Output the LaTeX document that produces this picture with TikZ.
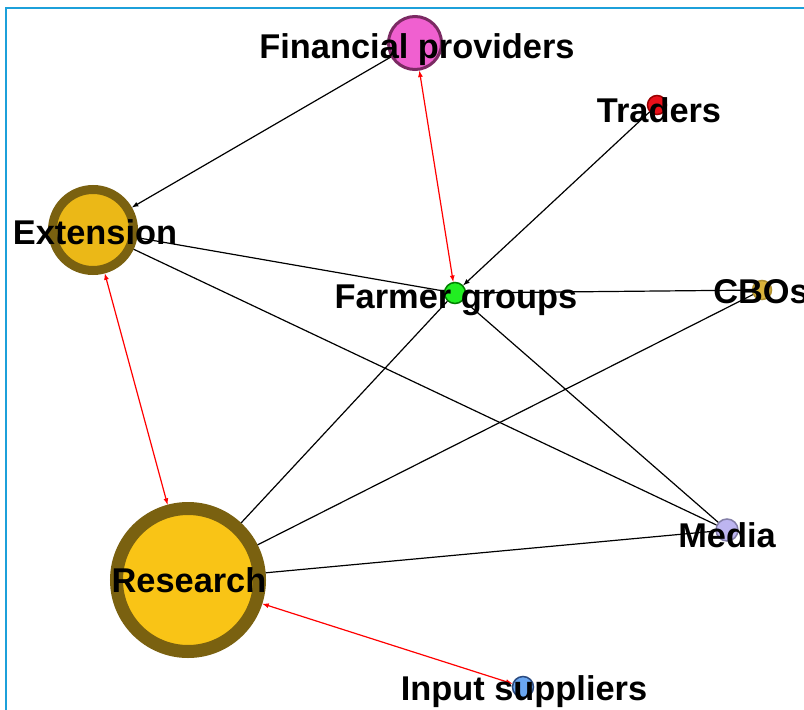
\documentclass[tikz,border=0pt]{standalone}
\usepackage{fontspec}
\setmainfont{Liberation Sans}
\usepackage{xcolor}
\usetikzlibrary{arrows}
\definecolor{frame}{HTML}{1CA0DA}
\definecolor{olive}{HTML}{7A6110}
\definecolor{extfill}{HTML}{EBB817}
\definecolor{resfill}{HTML}{F9C416}
\definecolor{finfill}{HTML}{F060D0}
\definecolor{finline}{HTML}{7B2A63}
\definecolor{tradfill}{HTML}{E8101A}
\definecolor{farmfill}{HTML}{22EE22}
\definecolor{cbofill}{HTML}{D9B33A}
\definecolor{medfill}{HTML}{BDB5F0}
\definecolor{inpfill}{HTML}{6AA6F0}
\definecolor{inpline}{HTML}{2A4A80}

\begin{document}
\begin{tikzpicture}[x=1bp,y=-1bp,
    actor/.style={circle,draw,inner sep=0pt},
    lbl/.style={font=\fontsize{34.5}{40}\bfseries\selectfont,inner sep=0pt},
    tie/.style={line width=1.2bp,black},
    mutual/.style={line width=1.2bp,red,latex-latex},
    flow/.style={line width=1.2bp,black,-latex}]
  \useasboundingbox (0,0) rectangle (804,710);
  \fill[white] (0,0) rectangle (804,710);
  \draw[frame,line width=2.5bp] (6,710) -- (6,8) -- (804,8);

  \node[actor,fill=finfill,draw=finline,line width=3bp,minimum size=53bp] (fin) at (415,43) {};
  \node[actor,fill=tradfill,draw=red!60!black,line width=1.5bp,minimum size=19bp] (trad) at (657,105) {};
  \node[actor,fill=extfill,draw=olive,line width=9bp,minimum size=81bp] (ext) at (93,230) {};
  \node[actor,fill=farmfill,draw=green!50!black,line width=1.5bp,minimum size=21bp] (farm) at (455,293) {};
  \node[actor,fill=cbofill,draw=cbofill!80!black,line width=1.5bp,minimum size=19bp] (cbo) at (762,290) {};
  \node[actor,fill=medfill,draw=medfill!70!black,line width=1.5bp,minimum size=22bp] (med) at (727,530) {};
  \node[actor,fill=resfill,draw=olive,line width=13bp,minimum size=143bp] (res) at (188,580) {};
  \node[actor,fill=inpfill,draw=inpline,line width=1.5bp,minimum size=21bp] (inp) at (523,687) {};

  \draw[flow] (fin) -- (ext);
  \draw[mutual] (fin) -- (farm);
  \draw[flow] (trad) -- (farm);
  \draw[tie] (ext) -- (farm);
  \draw[tie] (ext) -- (med);
  \draw[mutual] (ext) -- (res);
  \draw[tie] (farm) -- (cbo);
  \draw[tie] (farm) -- (res);
  \draw[tie] (farm) -- (med);
  \draw[tie] (cbo) -- (res);
  \draw[tie] (med) -- (res);
  \draw[mutual] (res) -- (inp);

  \node[lbl] (finl) at (417,50) {Financial providers};
  \node[lbl] (tradl) at (659,110) {Traders};
  \node[lbl] (extl) at (95,232) {Extension};
  \node[lbl] (farml) at (456,300) {Farmer groups};
  \node[lbl] (cbol) at (761,292) {CBOs};
  \node[lbl] (medl) at (727,535) {Media};
  \node[lbl] (resl) at (189,580) {Research};
  \node[lbl] (inpl) at (524,692) {Input suppliers};
\end{tikzpicture}
\end{document}
